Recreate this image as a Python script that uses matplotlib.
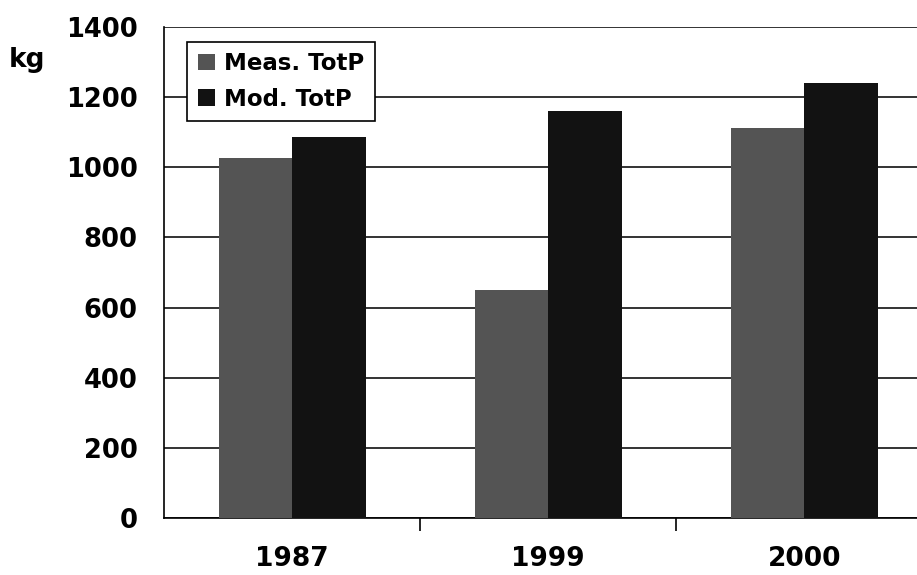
import numpy as np
import matplotlib
matplotlib.use('Agg')
import matplotlib.pyplot as plt

years = ['1987', '1999', '2000']
meas_totp = [1027, 650, 1113]
mod_totp = [1087, 1161, 1241]

plt.rcParams['font.family'] = ['DejaVu Sans']
plt.rcParams['font.weight'] = 'bold'

fig = plt.figure(figsize=(9.17, 5.75), dpi=100)
ax = fig.add_axes([0.179, 0.099, 0.821, 0.854])

x = np.arange(len(years))
w = 0.287
ax.bar(x - w / 2, meas_totp, w, color='#545454', label='Meas. TotP', zorder=3)
ax.bar(x + w / 2, mod_totp, w, color='#121212', label='Mod. TotP', zorder=3)

ax.set_xlim(-0.5, 2.44)
ax.set_ylim(0, 1400)
ax.set_yticks(range(0, 1401, 200))
ax.yaxis.grid(True, color='#333333', linewidth=1.4, zorder=0)
ax.set_axisbelow(True)

ax.set_xticks([0.5, 1.5])
ax.set_xticklabels([])
ax.set_xticks(x, minor=True)
ax.set_xticklabels(years, minor=True, fontsize=19, fontweight='bold')
ax.tick_params(axis='x', which='major', length=9, width=1.2, direction='out')
ax.tick_params(axis='x', which='minor', length=0, pad=20)
ax.tick_params(axis='y', length=0, pad=19, labelsize=18.5)
for lab in ax.get_yticklabels():
    lab.set_fontweight('bold')

for s in ['top', 'right']:
    ax.spines[s].set_visible(False)
ax.spines['left'].set_linewidth(1.2)
ax.spines['bottom'].set_linewidth(1.2)

fig.text(0.009, 0.883, 'kg', fontsize=19, fontweight='bold')

leg = ax.legend(loc='upper left', bbox_to_anchor=(0.031, 0.97), borderaxespad=0,
                handlelength=0.75, handleheight=0.75, handletextpad=0.4,
                labelspacing=0.55, borderpad=0.45, fancybox=False,
                edgecolor='black', framealpha=1,
                prop={'weight': 'bold', 'size': 16.5})
leg.get_frame().set_linewidth(1.2)

fig.savefig('out.png', dpi=100)
